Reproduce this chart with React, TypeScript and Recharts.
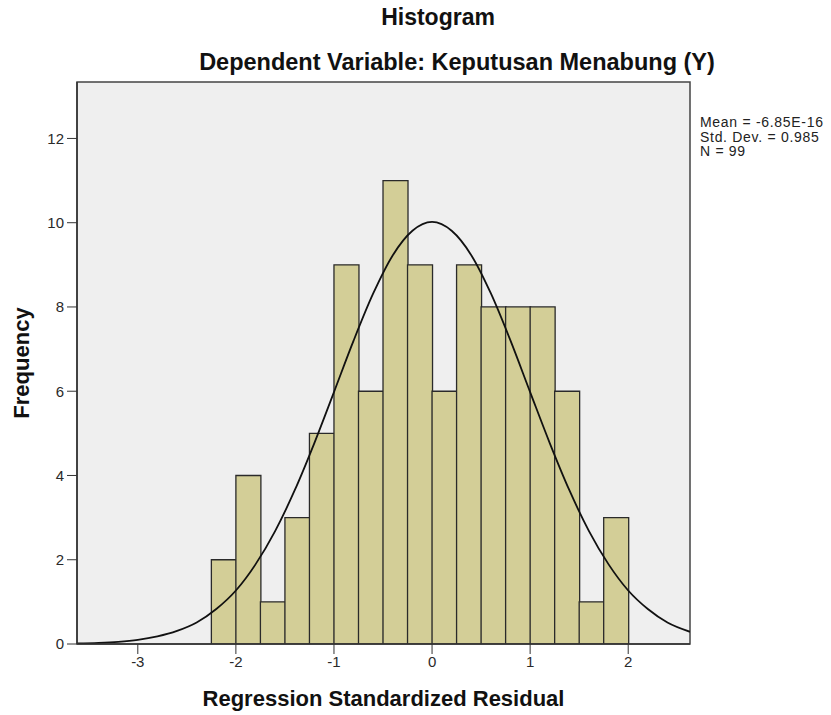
import React from 'react';
import { ComposedChart, Bar, Line, XAxis, YAxis, CartesianGrid, ReferenceArea } from 'recharts';

// Histogram bins (lower edges) and frequencies
const binStarts = [-2.25, -2, -1.75, -1.5, -1.25, -1, -0.75, -0.5, -0.25, 0, 0.25, 0.5, 0.75, 1, 1.25, 1.5, 1.75];
const frequencies = [2, 4, 1, 3, 5, 9, 6, 11, 9, 6, 9, 8, 8, 8, 6, 1, 3];
const binWidth = 0.25;

// Normal curve
const curveX = [-3.62, -3.4, -3.2, -3.0, -2.8, -2.6, -2.4, -2.2, -2.0, -1.8, -1.6, -1.4, -1.2, -1.0, -0.8, -0.6, -0.4, -0.2, 0, 0.2, 0.4, 0.6, 0.8, 1.0, 1.2, 1.4, 1.6, 1.8, 2.0, 2.2, 2.4, 2.63];
const curveY = [0.012, 0.026, 0.051, 0.097, 0.18, 0.31, 0.51, 0.83, 1.27, 1.89, 2.68, 3.65, 4.77, 5.98, 7.2, 8.32, 9.23, 9.81, 10.02, 9.81, 9.23, 8.32, 7.2, 5.98, 4.77, 3.65, 2.68, 1.89, 1.27, 0.83, 0.51, 0.29];

const xTicks = [-3, -2, -1, 0, 1, 2];
const yTicks = [0, 2, 4, 6, 8, 10, 12];
const xDomain: [number, number] = [-3.62, 2.63];
const yDomain: [number, number] = [0, 13.34];

const statsLines = ['Mean = -6.85E-16', 'Std. Dev. = 0.985', 'N = 99'];
const title = 'Histogram';
const subtitle = 'Dependent Variable: Keputusan Menabung (Y)';
const xLabel = 'Regression Standardized Residual';
const yLabel = 'Frequency';

const barData = binStarts.map((b, i) => ({ bin: String(b), freq: frequencies[i] }));
const curveData = curveX.map((x, i) => ({ x, y: curveY[i] }));

const W = 831;
const H = 715;
const margin = { top: 82, right: 141, bottom: 11, left: 17 };
const yAxisWidth = 60;
const xAxisHeight = 60;
const plotWidth = W - margin.left - margin.right - yAxisWidth;
const span = xDomain[1] - xDomain[0];
const padL = ((binStarts[0] - xDomain[0]) / span) * plotWidth;
const padR = ((xDomain[1] - (binStarts[binStarts.length - 1] + binWidth)) / span) * plotWidth;

const font = 'Arial, "Liberation Sans", sans-serif';
const axisColor = '#333';
const tickStyle = { fill: '#2a2a2a', fontSize: 15, fontFamily: font };
const axisTitleStyle = { fontSize: 22, fontWeight: 'bold', fill: '#111', fontFamily: font };

export default function App() {
  return (
    <div style={{ position: 'absolute', left: 0, top: 0, width: W, height: H, background: '#fff', fontFamily: font, overflow: 'hidden' }}>
      <div style={{ position: 'absolute', left: 238, top: 6, width: 400, textAlign: 'center', fontSize: 23, fontWeight: 'bold', lineHeight: '23px', color: '#111' }}>{title}</div>
      <div style={{ position: 'absolute', left: 157, top: 51, width: 600, textAlign: 'center', fontSize: 23.5, fontWeight: 'bold', lineHeight: '23px', color: '#111' }}>{subtitle}</div>
      <div style={{ position: 'absolute', left: 700, top: 115, fontSize: 14, lineHeight: '14.5px', letterSpacing: '0.7px', color: '#222', whiteSpace: 'nowrap' }}>
        {statsLines.map((s) => (
          <div key={s}>{s}</div>
        ))}
      </div>
      <ComposedChart
        width={W}
        height={H}
        data={barData}
        margin={margin}
        barCategoryGap={0}
        barGap={0}
        style={{ position: 'absolute', left: 0, top: 0 }}
      >
        <CartesianGrid fill="#EFEFEF" horizontal={false} vertical={false} />
        <XAxis xAxisId="bins" dataKey="bin" type="category" hide height={0} padding={{ left: padL, right: padR }} />
        <XAxis
          xAxisId="num"
          dataKey="x"
          type="number"
          domain={xDomain}
          ticks={xTicks}
          allowDataOverflow
          height={xAxisHeight}
          tickSize={10}
          tickMargin={2}
          stroke={axisColor}
          tick={tickStyle}
          axisLine={{ stroke: axisColor, strokeWidth: 1.5 }}
          label={{ value: xLabel, position: 'insideBottom', offset: -2, style: axisTitleStyle }}
        />
        <YAxis
          domain={yDomain}
          ticks={yTicks}
          allowDataOverflow
          width={yAxisWidth}
          tickSize={10}
          tickMargin={3}
          stroke={axisColor}
          tick={tickStyle}
          axisLine={{ stroke: axisColor, strokeWidth: 1.5 }}
          label={{ value: yLabel, angle: -90, position: 'insideLeft', offset: 4, style: { ...axisTitleStyle, textAnchor: 'middle' } }}
        />
        <Bar xAxisId="bins" dataKey="freq" fill="#D3CE97" stroke="#2a2a2a" strokeWidth={1.3} isAnimationActive={false} />
        <Line xAxisId="num" data={curveData} dataKey="y" type="monotone" stroke="#111" strokeWidth={1.8} dot={false} activeDot={false} isAnimationActive={false} />
        <ReferenceArea xAxisId="num" x1={xDomain[0]} x2={xDomain[1]} y1={yDomain[0]} y2={yDomain[1]} fill="none" stroke="#444" strokeWidth={1.5} ifOverflow="visible" />
      </ComposedChart>
    </div>
  );
}
